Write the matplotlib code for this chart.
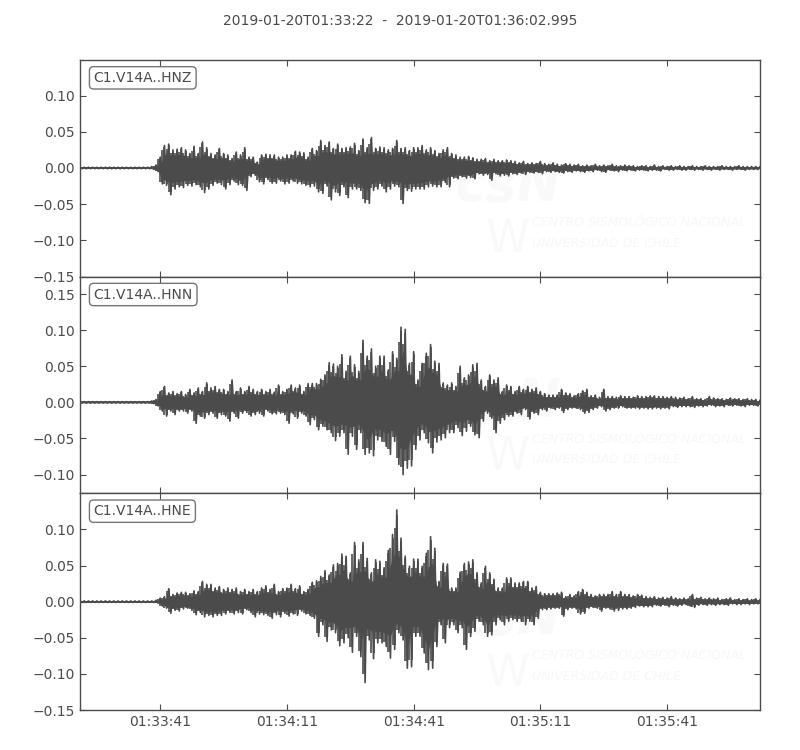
# -*- coding: utf-8 -*-
import numpy as np
import matplotlib
matplotlib.use('Agg')
import matplotlib.pyplot as plt

title = '2019-01-20T01:33:22  -  2019-01-20T01:36:02.995'
labels = ['C1.V14A..HNZ', 'C1.V14A..HNN', 'C1.V14A..HNE']

# seconds after 01:33:22
duration = 160.995
tick_sec = [19, 49, 79, 109, 139]
tick_txt = ['01:33:41', '01:34:11', '01:34:41', '01:35:11', '01:35:41']

hnz_hi = [1, 1, 1, 1, 1, 1, 1, 1, 1, 1,
          1, 1, 1, 1, 1, 1, 1, 2, 4, 15,
          31, 33, 25, 26, 28, 25, 20, 30, 20, 36,
          28, 20, 18, 27, 20, 18, 13, 22, 18, 28,
          15, 15, 8, 18, 19, 18, 18, 15, 15, 18,
          18, 23, 22, 21, 15, 27, 24, 38, 31, 36,
          27, 33, 27, 28, 29, 34, 24, 40, 28, 42,
          27, 29, 28, 25, 27, 38, 27, 28, 24, 28,
          28, 31, 25, 28, 24, 20, 25, 28, 20, 18,
          15, 15, 16, 14, 12, 12, 13, 10, 12, 10,
          10, 11, 10, 9, 7, 9, 6, 7, 6, 9,
          6, 5, 7, 5, 4, 6, 5, 4, 5, 3,
          4, 3, 5, 3, 4, 3, 5, 3, 3, 4,
          3, 3, 2, 3, 3, 2, 4, 2, 3, 2,
          3, 2, 3, 2, 2, 3, 2, 2, 3, 2,
          2, 2, 3, 2, 2, 2, 3, 2, 2, 2, 2, 2]
hnz_lo = [-1, -1, -1, -1, -1, -1, -1, -1, -1, -1,
          -1, -1, -1, -1, -1, -1, -1, -2, -5, -22,
          -24, -37, -29, -26, -27, -24, -25, -23, -26, -34,
          -29, -24, -21, -23, -29, -23, -18, -23, -24, -31,
          -12, -10, -19, -22, -16, -21, -21, -18, -22, -21,
          -18, -21, -22, -24, -26, -25, -33, -35, -25, -44,
          -33, -38, -26, -41, -29, -29, -31, -48, -49, -31,
          -29, -25, -33, -29, -25, -26, -49, -31, -32, -29,
          -29, -29, -26, -25, -26, -26, -20, -26, -14, -15,
          -12, -14, -13, -15, -8, -10, -9, -17, -8, -11,
          -10, -11, -8, -9, -7, -9, -6, -7, -6, -8,
          -5, -6, -5, -6, -7, -5, -6, -4, -5, -6,
          -4, -5, -3, -5, -6, -3, -4, -5, -3, -4,
          -3, -4, -3, -3, -4, -3, -3, -4, -2, -3,
          -3, -2, -3, -3, -2, -3, -2, -3, -2, -3,
          -2, -3, -2, -2, -3, -2, -2, -3, -2, -2, -2, -2]

hnn_hi = [1, 1, 1, 1, 1, 1, 1, 1, 1, 1,
          1, 1, 1, 1, 1, 1, 1, 2, 4, 15,
          22, 13, 15, 12, 15, 11, 18, 13, 20, 15,
          27, 20, 22, 18, 18, 15, 31, 15, 20, 15,
          22, 18, 15, 18, 15, 18, 14, 24, 15, 18,
          24, 20, 24, 15, 26, 26, 26, 32, 38, 55,
          53, 50, 66, 43, 64, 52, 43, 86, 64, 74,
          50, 64, 64, 45, 70, 61, 104, 101, 54, 70,
          31, 54, 68, 80, 57, 54, 27, 24, 27, 22,
          50, 34, 38, 52, 54, 31, 22, 38, 31, 34,
          15, 24, 22, 15, 22, 18, 22, 18, 20, 15,
          12, 10, 10, 10, 18, 13, 12, 9, 12, 16,
          18, 9, 10, 7, 18, 8, 8, 7, 9, 8,
          8, 7, 9, 8, 8, 9, 9, 8, 8, 7,
          8, 7, 6, 7, 5, 8, 5, 5, 4, 8,
          6, 5, 5, 4, 6, 5, 5, 4, 5, 4, 4, 3]
hnn_lo = [-1, -1, -1, -1, -1, -1, -1, -1, -1, -1,
          -1, -1, -1, -1, -1, -1, -1, -2, -5, -12,
          -19, -12, -17, -12, -12, -15, -12, -29, -19, -22,
          -17, -15, -22, -17, -19, -26, -15, -22, -15, -14,
          -19, -17, -15, -19, -12, -16, -16, -15, -17, -29,
          -16, -22, -15, -19, -31, -24, -38, -33, -38, -42,
          -53, -47, -42, -72, -47, -65, -42, -72, -70, -74,
          -52, -54, -61, -72, -54, -86, -100, -91, -88, -65,
          -52, -42, -56, -70, -55, -52, -49, -42, -42, -35,
          -46, -40, -33, -45, -49, -26, -15, -22, -42, -29,
          -24, -19, -19, -15, -17, -10, -23, -15, -17, -10,
          -12, -8, -10, -8, -14, -10, -8, -8, -10, -15,
          -14, -10, -8, -6, -12, -10, -8, -8, -6, -8,
          -8, -8, -9, -8, -9, -9, -8, -9, -8, -9,
          -6, -7, -6, -6, -6, -7, -5, -6, -5, -4,
          -6, -5, -6, -4, -5, -4, -5, -6, -4, -4, -5, -4]

hne_hi = [1, 1, 1, 1, 1, 1, 1, 1, 1, 1,
          1, 1, 1, 1, 1, 1, 1, 1, 2, 5,
          7, 18, 10, 12, 13, 13, 11, 15, 14, 28,
          24, 24, 19, 21, 17, 19, 17, 19, 14, 17,
          14, 17, 14, 19, 22, 17, 24, 14, 18, 19,
          24, 18, 22, 14, 17, 27, 29, 35, 43, 37,
          51, 53, 66, 63, 40, 82, 58, 82, 60, 40,
          58, 56, 47, 71, 93, 127, 88, 63, 49, 59,
          59, 49, 67, 90, 74, 28, 53, 52, 19, 19,
          41, 53, 55, 58, 40, 26, 49, 40, 31, 19,
          19, 33, 33, 26, 26, 28, 28, 19, 21, 13,
          11, 11, 11, 12, 13, 7, 10, 8, 14, 17,
          13, 10, 8, 10, 10, 10, 14, 10, 14, 10,
          10, 8, 10, 9, 7, 6, 7, 5, 6, 5,
          7, 5, 4, 5, 4, 10, 5, 6, 4, 5,
          4, 5, 3, 4, 5, 3, 4, 3, 4, 3, 4, 3]
hne_lo = [-1, -1, -1, -1, -1, -1, -1, -1, -1, -1,
          -1, -1, -1, -1, -1, -1, -1, -1, -2, -6,
          -9, -16, -12, -13, -10, -9, -12, -18, -15, -21,
          -19, -21, -19, -19, -17, -15, -17, -15, -17, -11,
          -15, -21, -17, -18, -19, -23, -18, -21, -16, -20,
          -17, -19, -13, -17, -19, -23, -48, -32, -55, -39,
          -43, -61, -57, -50, -70, -48, -76, -112, -53, -79,
          -57, -57, -62, -78, -66, -43, -53, -92, -90, -48,
          -48, -71, -94, -92, -62, -32, -57, -36, -32, -43,
          -36, -66, -48, -41, -27, -32, -48, -46, -32, -25,
          -32, -27, -25, -27, -27, -32, -27, -32, -23, -11,
          -11, -10, -9, -9, -20, -11, -9, -10, -17, -16,
          -9, -8, -9, -13, -9, -10, -13, -12, -10, -10,
          -9, -8, -6, -7, -7, -7, -5, -6, -5, -7,
          -5, -6, -5, -4, -6, -8, -5, -4, -5, -4,
          -5, -4, -4, -5, -3, -4, -4, -3, -4, -3, -3, -3]

series = [(hnz_hi, hnz_lo), (hnn_hi, hnn_lo), (hne_hi, hne_lo)]
ylims = [(-0.15, 0.149), (-0.126, 0.174), (-0.15, 0.15)]
yticks = [[-0.15, -0.10, -0.05, 0, 0.05, 0.10],
          [-0.10, -0.05, 0, 0.05, 0.10, 0.15],
          [-0.15, -0.10, -0.05, 0, 0.05, 0.10]]

dark = '#4b4b4b'
plt.rcParams['font.size'] = 10
plt.rcParams['text.color'] = dark
plt.rcParams['axes.edgecolor'] = dark
plt.rcParams['axes.linewidth'] = 1.0
plt.rcParams['xtick.color'] = dark
plt.rcParams['ytick.color'] = dark

fig, axes = plt.subplots(3, 1, sharex=True, figsize=(8, 7.5), dpi=100)
fig.subplots_adjust(left=0.1, right=0.95, top=0.92, bottom=0.0533, hspace=0)

for i, ax in enumerate(axes):
    n = min(len(series[i][0]), len(series[i][1]))
    hi = np.array(series[i][0][:n]) * 0.001
    lo = np.array(series[i][1][:n]) * 0.001
    t = np.arange(n)

    # faint watermark behind the trace
    ax.text(0.55, 0.42, 'csN', transform=ax.transAxes, color='#f9f9f9',
            fontsize=38, style='italic', weight='bold', ha='left', va='center', zorder=0)
    ax.text(0.596, 0.17, 'W', transform=ax.transAxes, color='#f9f9f9',
            fontsize=32, ha='left', va='center', zorder=0)
    ax.text(0.665, 0.25, 'CENTRO SISMOLÓGICO NACIONAL', transform=ax.transAxes,
            color='#f7f7f7', fontsize=9, style='italic', ha='left', va='center', zorder=0)
    ax.text(0.665, 0.155, 'UNIVERSIDAD DE CHILE', transform=ax.transAxes,
            color='#f7f7f7', fontsize=9, style='italic', ha='left', va='center', zorder=0)

    # dark body, then the peaks as a zigzag and thin uprights on top
    body_hi = 0.72 * np.minimum(hi[:-1], hi[1:])
    body_lo = 0.72 * np.maximum(lo[:-1], lo[1:])
    ax.fill_between(t[:-1] + 0.5, body_lo, body_hi, color=dark, lw=0, zorder=2)
    x = np.column_stack((t, t + 0.5)).ravel()
    y = np.column_stack((hi, lo)).ravel()
    ax.plot(x, y, color=dark, lw=1.2, zorder=2)
    ax.vlines(t, 0.9 * lo, 0.95 * hi, color=dark, lw=1.2, zorder=2)
    ax.vlines(t + 0.5, 0.9 * lo, 0.8 * np.r_[hi[1:], hi[-1]], color=dark, lw=1.2, zorder=2)
    ax.axhline(0, color=dark, lw=1.2, zorder=2)

    ax.set_xlim(0, duration)
    ax.set_ylim(*ylims[i])
    ax.set_yticks(yticks[i])
    ax.set_yticklabels(['%.2f' % v if v >= 0 else '\u2212%.2f' % -v for v in yticks[i]])
    ax.set_xticks(tick_sec)
    ax.set_xticklabels(tick_txt)
    ax.tick_params(direction='in', top=True, right=True, length=4, width=0.8)
    ax.text(0.02, 0.95, labels[i], transform=ax.transAxes, ha='left', va='top',
            fontsize=10, bbox=dict(boxstyle='round', fc='white', ec='#666666', alpha=0.9), zorder=5)

fig.text(0.5, 0.972, title, ha='center', va='center', fontsize=10)
fig.savefig('out.png', dpi=100)
